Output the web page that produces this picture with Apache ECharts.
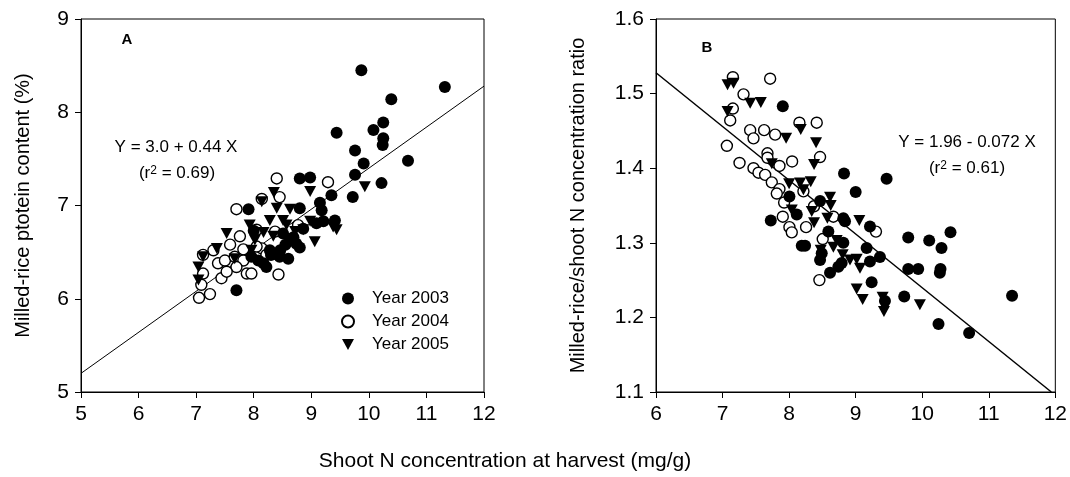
<!DOCTYPE html>
<html><head><meta charset="utf-8">
<script src="https://cdn.jsdelivr.net/npm/echarts@6/dist/echarts.min.js"></script>
<style>html,body{margin:0;padding:0;background:#fff}#c{width:1070px;height:477px}</style>
</head><body><div id="c"></div>
<script>
// Panel A: milled-rice protein content (%) vs shoot N (mg/g)
const a2003 = [[9.87,8.45],[11.32,8.27],[10.39,8.14],[10.25,7.89],[10.08,7.81],[9.44,7.78],[10.25,7.72],[10.24,7.65],[9.76,7.59],[9.91,7.45],[10.68,7.48],[9.76,7.33],[10.22,7.24],[9.72,7.09],[9.35,7.11],[8.80,7.29],[8.98,7.30],[9.15,7.03],[9.18,6.95],[9.21,6.83],[9.41,6.84],[8.80,6.97],[7.91,6.96],[7.70,6.09],[8.51,6.70],[8.63,6.63],[8.74,6.59],[8.45,6.45],[8.60,6.43],[8.22,6.34],[8.17,6.38],[7.96,6.45],[8.08,6.41],[8.69,6.66],[8.86,6.75],[9.09,6.81],[8.28,6.52],[8.00,6.73],[8.55,6.58],[8.46,6.52],[8.80,6.55],[8.30,6.47]];
const a2004 = [[8.40,7.29],[9.29,7.25],[8.45,7.09],[8.14,7.07],[7.70,6.96],[7.76,6.67],[8.05,6.74],[7.59,6.58],[7.30,6.52],[7.12,6.47],[7.82,6.53],[8.14,6.54],[8.22,6.47],[7.38,6.38],[7.50,6.41],[7.67,6.45],[7.82,6.41],[7.70,6.34],[7.44,6.22],[7.53,6.29],[7.12,6.27],[7.88,6.27],[7.96,6.27],[8.43,6.26],[7.05,6.01],[7.24,6.05],[8.77,6.79],[8.37,6.72],[8.05,6.56],[7.09,6.15]];
const a2005 = [[8.98,7.15],[8.35,7.14],[8.14,7.04],[8.40,6.97],[8.63,6.96],[9.93,7.20],[8.28,6.84],[7.93,6.79],[8.98,6.83],[9.38,6.77],[9.44,6.74],[9.06,6.61],[8.86,6.74],[8.17,6.71],[7.53,6.70],[7.36,6.54],[7.12,6.45],[7.04,6.34],[7.04,6.20],[7.96,6.52],[7.67,6.43],[8.34,6.67],[8.57,6.79],[8.72,6.72],[8.02,6.63],[8.51,6.84]];
const fitA = [[5,5.2],[12,8.28]];

// Panel B: milled-rice/shoot N concentration ratio vs shoot N (mg/g)
const b2003 = [[7.905,1.483],[8.825,1.393],[9.465,1.386],[9.00,1.368],[8.005,1.362],[8.465,1.356],[7.725,1.330],[8.115,1.338],[8.815,1.333],[8.84,1.329],[8.59,1.315],[8.19,1.296],[8.24,1.296],[9.215,1.322],[9.165,1.293],[9.79,1.307],[10.105,1.303],[10.29,1.293],[10.425,1.314],[9.365,1.281],[8.465,1.277],[8.815,1.300],[8.79,1.273],[8.74,1.268],[8.615,1.260],[9.215,1.275],[9.79,1.265],[9.94,1.265],[10.275,1.265],[10.265,1.260],[9.24,1.247],[9.44,1.222],[9.73,1.228],[10.245,1.191],[10.705,1.179],[11.35,1.229],[8.49,1.286]];
const b2004 = [[7.155,1.522],[7.715,1.520],[7.315,1.499],[7.155,1.480],[7.115,1.464],[8.155,1.461],[8.415,1.461],[7.415,1.451],[7.625,1.451],[7.465,1.440],[7.79,1.445],[7.065,1.430],[7.675,1.420],[7.675,1.414],[8.465,1.415],[8.045,1.409],[7.855,1.403],[7.255,1.407],[7.465,1.400],[7.54,1.394],[7.64,1.391],[7.74,1.381],[7.855,1.372],[7.815,1.366],[8.215,1.369],[7.925,1.354],[8.375,1.349],[7.905,1.335],[8.665,1.335],[8.005,1.321],[8.255,1.321],[8.04,1.314],[9.305,1.315],[8.505,1.305],[8.455,1.250]];
const b2005 = [[7.075,1.512],[7.165,1.514],[7.415,1.487],[7.575,1.488],[7.075,1.476],[7.955,1.440],[8.175,1.452],[8.405,1.434],[8.375,1.405],[7.74,1.406],[8.00,1.379],[8.165,1.380],[8.325,1.382],[8.215,1.371],[8.615,1.361],[8.625,1.350],[8.04,1.344],[8.34,1.342],[8.375,1.327],[8.575,1.333],[9.055,1.330],[8.475,1.290],[8.665,1.294],[8.805,1.284],[8.915,1.277],[9.015,1.278],[9.065,1.266],[9.015,1.238],[9.105,1.224],[9.405,1.227],[9.425,1.208],[9.965,1.217],[8.715,1.303]];
const fitB = [[6,1.528],[11.94,1.1]];

const yearNames = ['Year 2003','Year 2004','Year 2005'];
const xTicksA = [5,12], yTicksA = [5,9], xTicksB = [6,12], yTicksB = [1.1,1.6];

const FONT = 'Liberation Sans, Arial, sans-serif';
const tri = 'path://M0,0 L10,0 L5,9 Z';
const styles = {
  'Year 2003': {symbol:'circle', symbolSize:12, itemStyle:{color:'#000', borderColor:'#000', borderWidth:0, opacity:1}},
  'Year 2004': {symbol:'circle', symbolSize:11, itemStyle:{color:'#fff', borderColor:'#000', borderWidth:1.4, opacity:1}},
  'Year 2005': {symbol:tri, symbolSize:[12,11], itemStyle:{color:'#000', borderColor:'#000', borderWidth:0, opacity:1}}
};
function sc(name, data, gi){
  return Object.assign({type:'scatter', name, data, xAxisIndex:gi, yAxisIndex:gi, emphasis:{disabled:true}, z:3}, styles[name]);
}
function xAx(gi, r){
  return {type:'value', gridIndex:gi, min:r[0], max:r[1], interval:1,
    axisLine:{onZero:false, lineStyle:{color:'#000', width:1}},
    axisTick:{show:true, length:6, lineStyle:{color:'#000'}},
    axisLabel:{color:'#000', fontSize:21, fontFamily:FONT, margin:12},
    splitLine:{show:false}};
}
function yAx(gi, r, iv, dec, name, gap){
  return {type:'value', gridIndex:gi, min:r[0], max:r[1], interval:iv,
    name, nameLocation:'middle', nameGap:gap, nameTextStyle:{color:'#000', fontSize:20, fontFamily:FONT},
    axisLine:{onZero:false, lineStyle:{color:'#000', width:1}},
    axisTick:{show:true, length:6, lineStyle:{color:'#000'}},
    axisLabel:{color:'#000', fontSize:21, fontFamily:FONT, margin:12, formatter:v=>v.toFixed(dec)},
    splitLine:{show:false}};
}
const chart = echarts.init(document.getElementById('c'), null, {renderer:'canvas'});
chart.setOption({
  animation:false,
  backgroundColor:'#fff',
  textStyle:{fontFamily:FONT},
  grid:[
    {left:81, top:19, width:403, height:373, show:true, borderColor:'#000', borderWidth:1, backgroundColor:'transparent'},
    {left:656, top:19, width:400, height:373, show:true, borderColor:'#000', borderWidth:1, backgroundColor:'transparent'}
  ],
  xAxis:[xAx(0, xTicksA), xAx(1, xTicksB)],
  yAxis:[
    yAx(0, yTicksA, 1, 0, 'Milled-rice ptotein content (%)', 48),
    yAx(1, yTicksB, 0.1, 1, 'Milled-rice/shoot N concentration ratio', 68)
  ],
  legend:{data:yearNames, orient:'vertical', left:336, top:285, itemWidth:12, itemHeight:12, itemGap:6,
    selectedMode:false, textStyle:{color:'#000', fontSize:17, fontFamily:FONT, lineHeight:17, padding:[0,0,0,13]}},
  series:[
    sc('Year 2004', a2004, 0), sc('Year 2003', a2003, 0), sc('Year 2005', a2005, 0),
    {type:'line', data:fitA, xAxisIndex:0, yAxisIndex:0, symbol:'none', lineStyle:{color:'#000', width:1}, z:2, silent:true},
    sc('Year 2004', b2004, 1), sc('Year 2003', b2003, 1), sc('Year 2005', b2005, 1),
    {type:'line', data:fitB, xAxisIndex:1, yAxisIndex:1, symbol:'none', lineStyle:{color:'#000', width:1.5}, z:2, silent:true}
  ],
  graphic:[
    {type:'text', x:127, y:40, style:{text:'A', fill:'#000', font:'bold 15px '+FONT, textAlign:'center', textVerticalAlign:'middle'}},
    {type:'text', x:707, y:48, style:{text:'B', fill:'#000', font:'bold 15px '+FONT, textAlign:'center', textVerticalAlign:'middle'}},
    {type:'text', x:176, y:147, style:{text:'Y = 3.0 + 0.44 X', fill:'#000', font:'17px '+FONT, textAlign:'center', textVerticalAlign:'middle'}},
    {type:'text', x:177, y:173, style:{text:'(r{s|2} = 0.69)', fill:'#000', font:'17px '+FONT, textAlign:'center', textVerticalAlign:'middle', rich:{s:{fontSize:12, fontFamily:FONT, verticalAlign:'top', lineHeight:12, padding:[0,0,8,0]}}}},
    {type:'text', x:967, y:142, style:{text:'Y = 1.96 - 0.072 X', fill:'#000', font:'17px '+FONT, textAlign:'center', textVerticalAlign:'middle'}},
    {type:'text', x:967, y:168, style:{text:'(r{s|2} = 0.61)', fill:'#000', font:'17px '+FONT, textAlign:'center', textVerticalAlign:'middle', rich:{s:{fontSize:12, fontFamily:FONT, verticalAlign:'top', lineHeight:12, padding:[0,0,8,0]}}}},
    {type:'text', x:505, y:461, style:{text:'Shoot N concentration at harvest (mg/g)', fill:'#000', font:'21px '+FONT, textAlign:'center', textVerticalAlign:'middle'}}
  ]
});
</script></body></html>
